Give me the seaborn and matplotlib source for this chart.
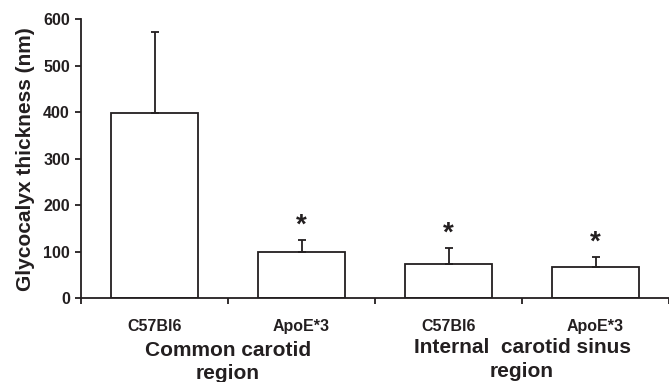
import numpy as np
import pandas as pd
import matplotlib
matplotlib.use("Agg")
import matplotlib.pyplot as plt
import seaborn as sns

# datos
strains = ["C57Bl6", "ApoE*3", "C57Bl6", "ApoE*3"]
region_lines = [["Common carotid", "region"], ["Internal  carotid sinus", "region"]]
thickness = [398, 100, 73, 68]
sd_upper = [175, 26, 36, 21]
significant = [False, True, True, True]

df = pd.DataFrame({"pos": range(len(strains)), "strain": strains,
                   "thickness": thickness, "sd": sd_upper})

sns.set_style("ticks")
plt.rcParams["font.family"] = ["Liberation Sans", "DejaVu Sans"]
plt.rcParams["font.weight"] = "bold"
ink = "#231f20"

fig = plt.figure(figsize=(6.69, 3.82), dpi=100)
ax = fig.add_axes([81 / 669, 1 - 298.3 / 382, 1 - 81 / 669, 279.3 / 382])

sns.barplot(data=df, x="pos", y="thickness", color="white", edgecolor=ink,
            linewidth=1.3, width=0.59, errorbar=None, ax=ax)
ax.errorbar(df["pos"], df["thickness"], yerr=[np.zeros(len(df)), df["sd"]],
            fmt="none", ecolor=ink, elinewidth=1.3, capsize=3, capthick=1.3)

for i, row in df.iterrows():
    if significant[i]:
        ax.text(row["pos"], row["thickness"] + row["sd"] + 2, "*",
                ha="center", va="bottom", fontsize=20, fontweight="bold", color=ink)

ax.set_xlim(-0.5, 3.5)
ax.set_ylim(0, 600)
ax.set_yticks(range(0, 601, 100))
ax.set_xticks(np.arange(-0.5, 3.6, 1.0))
ax.set_xticklabels([])
ax.tick_params(axis="both", length=4, width=1.3, color=ink, direction="out")
ax.tick_params(axis="y", labelsize=11.5, labelcolor=ink, pad=4)
for lab in ax.get_yticklabels():
    lab.set_fontweight("bold")
ax.set_xlabel("")
ax.set_ylabel("Glycocalyx thickness (nm)", fontsize=15, fontweight="bold",
              color=ink, labelpad=6)
sns.despine(ax=ax, top=True, right=True)
for sp in ["left", "bottom"]:
    ax.spines[sp].set_linewidth(1.3)
    ax.spines[sp].set_color(ink)

# etiquetas de cepa
for i, s in enumerate(strains):
    ax.annotate(s, xy=(i, 0), xycoords=("data", "axes fraction"),
                xytext=(0, -20), textcoords="offset points", ha="center",
                va="center", fontsize=11.5, fontweight="bold", color=ink)

# etiquetas de region, una linea cada vez (baselines medidas)
baselines = [[-41.5, -58.0], [-39.2, -56.6]]
for g, lines in enumerate(region_lines):
    for txt, off in zip(lines, baselines[g]):
        ax.annotate(txt, xy=(0.5 + 2 * g, 0), xycoords=("data", "axes fraction"),
                    xytext=(0, off), textcoords="offset points", ha="center",
                    va="baseline", fontsize=15, fontweight="bold", color=ink)

fig.savefig("out.png", dpi=100)
